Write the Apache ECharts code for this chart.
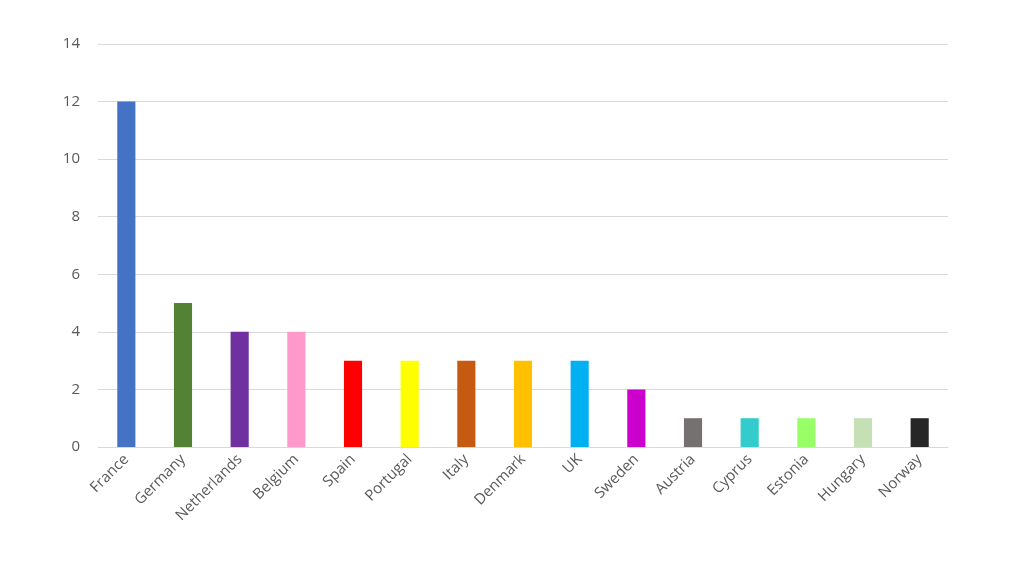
<!DOCTYPE html>
<html lang="en">
<head>
    <meta charset="UTF-8">
    <title>Chart</title>
    <style>
        html, body { margin: 0; padding: 0; background: #fff; }
        #chart { width: 1018px; height: 565px; }
    </style>
</head>
<body>
    <div id="chart"></div>
    <script src="https://cdn.jsdelivr.net/npm/echarts@6/dist/echarts.min.js"></script>
    <script>
        var countries = ['France', 'Germany', 'Netherlands', 'Belgium', 'Spain', 'Portugal', 'Italy', 'Denmark', 'UK', 'Sweden', 'Austria', 'Cyprus', 'Estonia', 'Hungary', 'Norway'];
        var counts = [12, 5, 4, 4, 3, 3, 3, 3, 3, 2, 1, 1, 1, 1, 1];
        var barColors = ['#4472C4', '#548235', '#7030A0', '#FF99CC', '#FF0000', '#FFFF00', '#C55A11', '#FFC000', '#00B0F0', '#CC00CC', '#767171', '#33CCCC', '#99FF66', '#C5E0B4', '#262626'];

        var chart = echarts.init(document.getElementById('chart'));
        chart.setOption({
            animation: false,
            grid: { left: 98, right: 70, top: 44, bottom: 118 },
            xAxis: {
                type: 'category',
                data: countries,
                axisTick: { show: false },
                axisLine: { lineStyle: { color: '#d9d9d9' } },
                axisLabel: { rotate: 45, color: '#595959', fontSize: 15, fontFamily: 'Open Sans', interval: 0, margin: 10 }
            },
            yAxis: {
                type: 'value',
                min: 0, max: 14, interval: 2,
                axisLabel: { color: '#595959', fontSize: 15, fontFamily: 'Open Sans', margin: 18 },
                splitLine: { lineStyle: { color: '#d9d9d9' } }
            },
            series: [{
                type: 'bar',
                barWidth: '32%',
                data: counts.map(function (v, i) {
                    return { value: v, itemStyle: { color: barColors[i] } };
                })
            }]
        });
    </script>
</body>
</html>
